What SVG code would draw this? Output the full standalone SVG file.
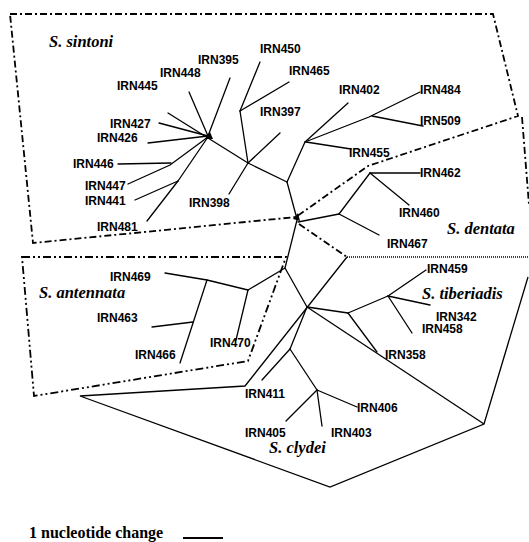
<svg xmlns="http://www.w3.org/2000/svg" width="529" height="542" viewBox="0 0 529 542">
<style>
.bg{fill:#fff}
.e{stroke:#000;stroke-width:1.3;fill:none;stroke-linecap:round}
.dd{stroke:#000;stroke-width:1.8;fill:none;stroke-dasharray:7 3 2 3}
.ddd{stroke:#000;stroke-width:1.8;fill:none;stroke-dasharray:8 3 2 3 2 3}
.dot{stroke:#000;stroke-width:1.6;fill:none;stroke-dasharray:1 1}
.sol{stroke:#000;stroke-width:1.3;fill:none}
.l{font-family:"Liberation Sans",Arial,sans-serif;font-weight:bold;font-size:12px;fill:#000}
.sp{font-family:"Liberation Serif","Times New Roman",serif;font-weight:bold;font-style:italic;font-size:16.5px;fill:#000}
.sc{font-family:"Liberation Serif","Times New Roman",serif;font-weight:bold;font-size:16px;fill:#000}
</style>
<rect class="bg" x="0" y="0" width="529" height="542"/>
<g id="boundaries">
<polygon class="dd" points="10,14 493,14 518,116 368,166 296,217 33,243"/>
<line class="dd" x1="522" y1="117" x2="529" y2="205"/>
<line class="dd" x1="299" y1="224" x2="347" y2="257"/>
<polygon class="ddd" points="22,257 286,257 248,361 34,396"/>
<line class="dot" x1="347" y1="257" x2="529" y2="257"/>
<polyline class="sol" points="528,277 484,424 330,487 80,396 245,386 347,257"/>
<line class="sol" x1="307" y1="307" x2="484" y2="424"/>
</g>
<g id="connectors">
<line class="e" x1="208" y1="136" x2="230" y2="78"/>
<line class="e" x1="208" y1="136" x2="189" y2="92"/>
<line class="e" x1="168" y1="113" x2="248" y2="163"/>
<line class="e" x1="159" y1="123" x2="208" y2="136"/>
<line class="e" x1="148" y1="143" x2="208" y2="136"/>
<line class="e" x1="118" y1="164" x2="171" y2="163"/>
<polyline class="e" points="128,184 170,165 208,137"/>
<line class="e" x1="208" y1="137" x2="178" y2="181"/>
<line class="e" x1="178" y1="181" x2="147" y2="221"/>
<line class="e" x1="135" y1="200" x2="178" y2="181"/>
<line class="e" x1="248" y1="163" x2="240" y2="111"/>
<line class="e" x1="240" y1="111" x2="260" y2="62"/>
<line class="e" x1="240" y1="111" x2="289" y2="82"/>
<line class="e" x1="248" y1="163" x2="280" y2="133"/>
<line class="e" x1="248" y1="163" x2="229" y2="194"/>
<line class="e" x1="248" y1="163" x2="287" y2="182"/>
<line class="e" x1="287" y1="182" x2="305" y2="142"/>
<line class="e" x1="305" y1="142" x2="348" y2="103"/>
<polyline class="e" points="305,142 369,117 420,92"/>
<line class="e" x1="372" y1="116" x2="423" y2="126"/>
<line class="e" x1="306" y1="142" x2="351" y2="149"/>
<line class="e" x1="287" y1="182" x2="297" y2="219"/>
<line class="e" x1="298" y1="222" x2="339" y2="214"/>
<line class="e" x1="339" y1="214" x2="370" y2="173"/>
<line class="e" x1="370" y1="173" x2="420" y2="173"/>
<line class="e" x1="370" y1="173" x2="409" y2="205"/>
<line class="e" x1="339" y1="214" x2="379" y2="235"/>
<polyline class="e" points="297,220 285,268 307,307"/>
<line class="e" x1="285" y1="268" x2="248" y2="290"/>
<line class="e" x1="248" y1="290" x2="236" y2="340"/>
<polyline class="e" points="248,290 207,280 165,273"/>
<line class="e" x1="207" y1="280" x2="180" y2="363"/>
<line class="e" x1="193" y1="322" x2="152" y2="327"/>
<line class="e" x1="307" y1="307" x2="348" y2="313"/>
<line class="e" x1="348" y1="313" x2="388" y2="296"/>
<line class="e" x1="388" y1="296" x2="426" y2="270"/>
<line class="e" x1="388" y1="296" x2="430" y2="305"/>
<line class="e" x1="388" y1="296" x2="412" y2="333"/>
<line class="e" x1="348" y1="313" x2="377" y2="352"/>
<line class="e" x1="307" y1="307" x2="290" y2="349"/>
<line class="e" x1="290" y1="349" x2="262" y2="380"/>
<line class="e" x1="290" y1="349" x2="317" y2="390"/>
<line class="e" x1="317" y1="390" x2="357" y2="407"/>
<line class="e" x1="317" y1="390" x2="286" y2="421"/>
<line class="e" x1="317" y1="390" x2="322" y2="426"/>
<line x1="183" y1="538" x2="223" y2="538" stroke="#000" stroke-width="1.8"/>
</g>
<g id="hubs">
<polygon points="205,139 210,132 213,139" fill="#000"/>
<polygon points="293,219 298,213 300,221" fill="#000"/>
</g>
<g id="labels">
<text class="l" x="198" y="64">IRN395</text>
<text class="l" x="160" y="77">IRN448</text>
<text class="l" x="117" y="90">IRN445</text>
<text class="l" x="110" y="128">IRN427</text>
<text class="l" x="97" y="142">IRN426</text>
<text class="l" x="73" y="168">IRN446</text>
<text class="l" x="85" y="190">IRN447</text>
<text class="l" x="85" y="205">IRN441</text>
<text class="l" x="97" y="231">IRN481</text>
<text class="l" x="260" y="53">IRN450</text>
<text class="l" x="289" y="75">IRN465</text>
<text class="l" x="260" y="116">IRN397</text>
<text class="l" x="189" y="207">IRN398</text>
<text class="l" x="339" y="94">IRN402</text>
<text class="l" x="420" y="94">IRN484</text>
<text class="l" x="420" y="125">IRN509</text>
<text class="l" x="349" y="157">IRN455</text>
<text class="l" x="420" y="177">IRN462</text>
<text class="l" x="399" y="217">IRN460</text>
<text class="l" x="387" y="248">IRN467</text>
<text class="l" x="110" y="281">IRN469</text>
<text class="l" x="97" y="322">IRN463</text>
<text class="l" x="135" y="359">IRN466</text>
<text class="l" x="210" y="347">IRN470</text>
<text class="l" x="427" y="273">IRN459</text>
<text class="l" x="436" y="321">IRN342</text>
<text class="l" x="422" y="333">IRN458</text>
<text class="l" x="385" y="359">IRN358</text>
<text class="l" x="245" y="398">IRN411</text>
<text class="l" x="357" y="412">IRN406</text>
<text class="l" x="245" y="437">IRN405</text>
<text class="l" x="331" y="437">IRN403</text>
<text class="sp" x="49" y="47">S. sintoni</text>
<text class="sp" x="447" y="234">S. dentata</text>
<text class="sp" x="39" y="298">S. antennata</text>
<text class="sp" x="422" y="299">S. tiberiadis</text>
<text class="sp" x="269" y="453">S. clydei</text>
<text class="sc" x="29" y="538">1 nucleotide change</text>
</g>
</svg>
